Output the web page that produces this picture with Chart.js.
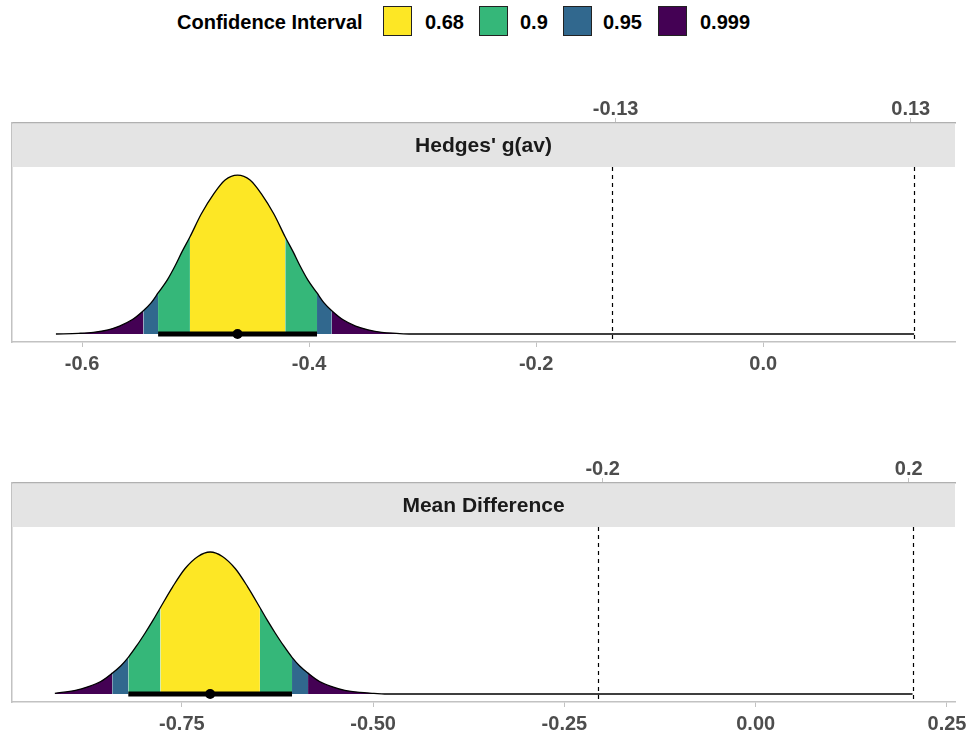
<!DOCTYPE html>
<html>
<head>
<meta charset="utf-8">
<script src="https://cdn.jsdelivr.net/npm/chart.js@4.4.1/dist/chart.umd.min.js"></script>
<style>
  body { margin: 0; width: 969px; height: 735px; overflow: hidden; background: #fff;
         font-family: 'Liberation Sans', Arial, sans-serif; }
  .legend { position: absolute; left: 0; top: 0; width: 969px; height: 44px; }
  .legend span { position: absolute; top: 0; height: 44px; line-height: 44px;
                 font-weight: bold; font-size: 20px; color: #000; white-space: nowrap; }
  .legend i { position: absolute; top: 6px; width: 27px; height: 28px; border: 1.5px solid #222; }
  .panel { position: absolute; left: 0; width: 969px; height: 295px; }
</style>
</head>
<body>
<div class="legend">
  <span style="left:177px">Confidence Interval</span>
  <i style="left:383px;background:#FDE725"></i><span style="left:425px">0.68</span>
  <i style="left:479px;background:#35B779"></i><span style="left:520px">0.9</span>
  <i style="left:563px;background:#31688E"></i><span style="left:603px">0.95</span>
  <i style="left:658px;background:#440154"></i><span style="left:700px">0.999</span>
</div>
<div class="panel" style="top:88px"><canvas id="hedges" width="969" height="295"></canvas></div>
<div class="panel" style="top:448px"><canvas id="meandiff" width="969" height="295"></canvas></div>

<script>
// colours for the intervals, outermost first
var bandColors = ['#440154', '#31688E', '#35B779', '#FDE725'];

// Hedges' g(av) panel
var hedgesX = [-0.623, -0.603, -0.590, -0.577, -0.567, -0.556, -0.546, -0.539, -0.533, -0.525,
               -0.518, -0.512, -0.505, -0.495, -0.484, -0.474, -0.463, -0.452, -0.442, -0.431,
               -0.421, -0.414, -0.408, -0.401, -0.393, -0.387, -0.380, -0.370, -0.359, -0.348,
               -0.336, -0.323, -0.310, 0.133];
var hedgesY = [0.00, 0.04, 0.10, 0.25, 0.47, 0.84, 1.38, 1.86, 2.43, 3.19,
               4.04, 4.86, 5.74, 7.10, 8.30, 9.12, 9.41, 9.12, 8.30, 7.10,
               5.74, 4.86, 4.04, 3.19, 2.43, 1.86, 1.38, 0.84, 0.47, 0.25,
               0.10, 0.04, 0.00, 0.00];
// interval limits: .999, .95, .9, .68 lower then .68, .9, .95, .999 upper
var hedgesBands = [-0.603, -0.546, -0.533, -0.505, -0.421, -0.393, -0.380, -0.323];
var hedgesEst = -0.463;
var hedgesBar = [-0.533, -0.393];
var hedgesBounds = [-0.133, 0.133];
var hedgesTicks = [-0.6, -0.4, -0.2, 0.0];
var hedgesTickLabels = ['-0.6', '-0.4', '-0.2', '0.0'];
var hedgesBoundTicks = [-0.13, 0.13];
var hedgesBoundLabels = ['-0.13', '0.13'];

// Mean Difference panel
var mdX = [-0.916, -0.889, -0.873, -0.856, -0.841, -0.830, -0.820, -0.809, -0.798, -0.788,
           -0.778, -0.762, -0.746, -0.729, -0.713, -0.697, -0.680, -0.664, -0.648, -0.638,
           -0.628, -0.617, -0.606, -0.596, -0.585, -0.570, -0.553, -0.537, -0.517, -0.499,
           -0.485, 0.205];
var mdY = [0.03, 0.16, 0.31, 0.54, 0.90, 1.21, 1.58, 2.08, 2.63, 3.16,
           3.73, 4.62, 5.40, 5.93, 6.12, 5.93, 5.40, 4.62, 3.73, 3.16,
           2.63, 2.08, 1.58, 1.21, 0.90, 0.54, 0.31, 0.16, 0.07, 0.03,
           0.00, 0.00];
var mdBands = [-0.916, -0.841, -0.820, -0.778, -0.648, -0.606, -0.585, -0.499];
var mdEst = -0.713;
var mdBar = [-0.820, -0.606];
var mdBounds = [-0.206, 0.205];
var mdTicks = [-0.75, -0.50, -0.25, 0.00, 0.25];
var mdTickLabels = ['-0.75', '-0.50', '-0.25', '0.00', '0.25'];
var mdBoundTicks = [-0.2, 0.2];
var mdBoundLabels = ['-0.2', '0.2'];

var FONT = "'Liberation Sans', Arial, sans-serif";
var AXIS_GREY = '#c2c2c2';
var TEXT_GREY = '#4d4d4d';
var STRIP_H = 44;

function points(xs, ys) {
  var out = [];
  for (var i = 0; i < xs.length; i++) out.push({x: xs[i], y: ys[i]});
  return out;
}

// slab segments for each interval band
function bandDatasets(xs, ys, bands) {
  var sets = [];
  var colorIdx = [0, 1, 2, 3, 2, 1, 0];
  for (var b = 0; b < bands.length - 1; b++) {
    var lo = bands[b], hi = bands[b + 1];
    var pts = [];
    for (var i = 0; i < xs.length; i++) {
      if (xs[i] >= lo - 1e-9 && xs[i] <= hi + 1e-9) pts.push({x: xs[i], y: ys[i]});
    }
    sets.push({
      data: pts,
      backgroundColor: bandColors[colorIdx[b]],
      borderWidth: 0,
      pointRadius: 0,
      fill: 'origin',
      cubicInterpolationMode: 'monotone',
      order: 3
    });
  }
  return sets;
}

// strip + dashed bound lines drawn over the plot
var stripPlugin = {
  id: 'strip',
  afterDatasetsDraw: function(chart, args, opts) {
    var ctx = chart.ctx, area = chart.chartArea, xs = chart.scales.x;
    ctx.save();
    ctx.strokeStyle = '#000';
    ctx.lineWidth = 1.2;
    ctx.setLineDash([4, 4]);
    opts.bounds.forEach(function(v) {
      var px = Math.round(xs.getPixelForValue(v)) + 0.5;
      ctx.beginPath();
      ctx.moveTo(px, area.top + STRIP_H);
      ctx.lineTo(px, area.bottom);
      ctx.stroke();
    });
    ctx.setLineDash([]);
    ctx.fillStyle = '#e4e4e4';
    ctx.fillRect(area.left, area.top + 1, area.right - area.left, STRIP_H - 1);
    ctx.fillStyle = '#1a1a1a';
    ctx.font = 'bold 21px ' + FONT;
    ctx.textAlign = 'center';
    ctx.textBaseline = 'middle';
    ctx.fillText(opts.title, (area.left + area.right) / 2, area.top + STRIP_H / 2 + 1);
    ctx.restore();
  }
};

function noSidePad(s) {
  s.paddingLeft = 0;
  s.paddingRight = 0;
}

function renderPanel(id, p) {
  var ctx = document.getElementById(id).getContext('2d');
  var datasets = [
    {data: [{x: p.est, y: 0}], showLine: false, pointRadius: 5, pointBackgroundColor: '#000',
     pointBorderWidth: 0, order: 0},
    {data: [{x: p.bar[0], y: 0}, {x: p.bar[1], y: 0}], borderColor: '#000', borderWidth: 5,
     borderCapStyle: 'butt', pointRadius: 0, order: 1},
    {data: points(p.xs, p.ys), borderColor: '#000', borderWidth: 1.3, pointRadius: 0,
     fill: false, cubicInterpolationMode: 'monotone', order: 2}
  ].concat(bandDatasets(p.xs, p.ys, p.bands));

  var tickFont = {family: FONT, size: 20, weight: 'bold'};

  return new Chart(ctx, {
    type: 'line',
    data: {datasets: datasets},
    plugins: [stripPlugin],
    options: {
      responsive: false,
      devicePixelRatio: 1,
      animation: false,
      layout: {padding: {left: 12, right: 14, top: 0, bottom: 0}},
      plugins: {
        legend: {display: false},
        tooltip: {enabled: false},
        strip: {bounds: p.bounds, title: p.title}
      },
      scales: {
        x: {
          type: 'linear', position: 'bottom', min: p.min, max: p.max,
          afterBuildTicks: function(s) { s.ticks = p.ticks.map(function(v) { return {value: v}; }); },
          afterFit: function(s) { s.height = 41; noSidePad(s); },
          ticks: {
            autoSkip: false, maxRotation: 0, padding: 5, color: TEXT_GREY, font: tickFont,
            callback: function(v, i) { return p.tickLabels[i]; }
          },
          grid: {display: true, drawOnChartArea: false, drawTicks: true, tickLength: 5, color: AXIS_GREY},
          border: {display: true, color: AXIS_GREY, width: 1.5}
        },
        x2: {
          type: 'linear', position: 'top', min: p.min, max: p.max,
          afterBuildTicks: function(s) { s.ticks = p.boundTicks.map(function(v) { return {value: v}; }); },
          afterFit: function(s) { s.height = 35; noSidePad(s); },
          ticks: {
            autoSkip: false, maxRotation: 0, padding: -3, color: TEXT_GREY, font: tickFont,
            callback: function(v, i) { return p.boundLabels[i]; }
          },
          grid: {display: true, drawOnChartArea: false, drawTicks: true, tickLength: 5, color: AXIS_GREY},
          border: {display: true, color: '#b0b0b0', width: 1.5}
        },
        y: {
          type: 'linear', min: p.ymin, max: p.ymax,
          afterFit: function(s) { s.width = 0; },
          ticks: {display: false},
          grid: {display: false},
          border: {display: true, color: AXIS_GREY, width: 1.5}
        }
      }
    }
  });
}

renderPanel('hedges', {
  title: "Hedges' g(av)", xs: hedgesX, ys: hedgesY, bands: hedgesBands,
  est: hedgesEst, bar: hedgesBar, bounds: hedgesBounds,
  ticks: hedgesTicks, tickLabels: hedgesTickLabels,
  boundTicks: hedgesBoundTicks, boundLabels: hedgesBoundLabels,
  min: -0.6617, max: 0.169, ymin: -0.473, ymax: 12.49
});

renderPanel('meandiff', {
  title: 'Mean Difference', xs: mdX, ys: mdY, bands: mdBands,
  est: mdEst, bar: mdBar, bounds: mdBounds,
  ticks: mdTicks, tickLabels: mdTickLabels,
  boundTicks: mdBoundTicks, boundLabels: mdBoundLabels,
  min: -0.972, max: 0.2605, ymin: -0.345, ymax: 9.095
});
</script>
</body>
</html>
